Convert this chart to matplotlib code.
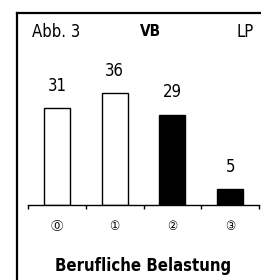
import matplotlib
matplotlib.use('Agg')
import matplotlib.pyplot as plt
from matplotlib import font_manager
from matplotlib.lines import Line2D

# Data
categories = ['\u24ea', '\u2460', '\u2461', '\u2462']
values = [31, 36, 29, 5]
fills = ['white', 'white', 'black', 'black']
title_left = 'Abb. 3'
title_mid = 'VB'
title_right = 'LP'
xlabel = 'Berufliche Belastung'

names = {f.name for f in font_manager.fontManager.ttflist}
narrow = 'Liberation Sans Narrow' if 'Liberation Sans Narrow' in names else 'DejaVu Sans'
plt.rcParams['font.family'] = [narrow, 'DejaVu Sans', 'Noto Sans CJK JP']
plt.rcParams['font.stretch'] = 'condensed'

W, H = 261, 280
fig = plt.figure(figsize=(W / 100, H / 100), dpi=100)

# frame around the panel (left and top edges visible)
fig.add_artist(Line2D([16.5 / W, 16.5 / W], [0, 1 - 12.5 / H], color='black', lw=1.6))
fig.add_artist(Line2D([16.5 / W, 1], [1 - 12.5 / H, 1 - 12.5 / H], color='black', lw=1.6))

ax = fig.add_axes([28 / W, 75 / H, 231 / W, 165 / H])
x = range(len(values))
ax.bar(x, values, width=0.45, color=fills, edgecolor='black', linewidth=1.0)
for xi, v in zip(x, values):
    ax.annotate(str(v), (xi, v), xytext=(0, 16), textcoords='offset points',
                ha='center', va='center', fontsize=12, fontstretch='condensed')

ax.set_xlim(-0.5, 3.5)
ax.set_ylim(0, 53)
for s in ['top', 'right', 'left']:
    ax.spines[s].set_visible(False)
ax.spines['bottom'].set_linewidth(1.0)
ax.set_yticks([])
ax.set_xticks(list(x))
ax.set_xticklabels(categories, fontsize=9, family=['DejaVu Sans', 'Noto Sans CJK JP'])
ax.tick_params(axis='x', which='major', length=0, pad=11)
ax.set_xticks([-0.5, 0.5, 1.5, 2.5, 3.5], minor=True)
ax.tick_params(axis='x', which='minor', length=3, width=1.0, direction='out')

fig.text(32 / W, 1 - 32 / H, title_left, ha='left', va='center', fontsize=12, fontstretch='condensed')
fig.text(150 / W, 1 - 32 / H, title_mid, ha='center', va='center', fontsize=11,
         fontweight='bold', fontstretch='condensed')
fig.text(254 / W, 1 - 32 / H, title_right, ha='right', va='center', fontsize=12, fontstretch='condensed')
fig.text(143 / W, 1 - 266 / H, xlabel, ha='center', va='center', fontsize=12,
         fontweight='bold', fontstretch='condensed')

fig.savefig('out.png', dpi=100)
